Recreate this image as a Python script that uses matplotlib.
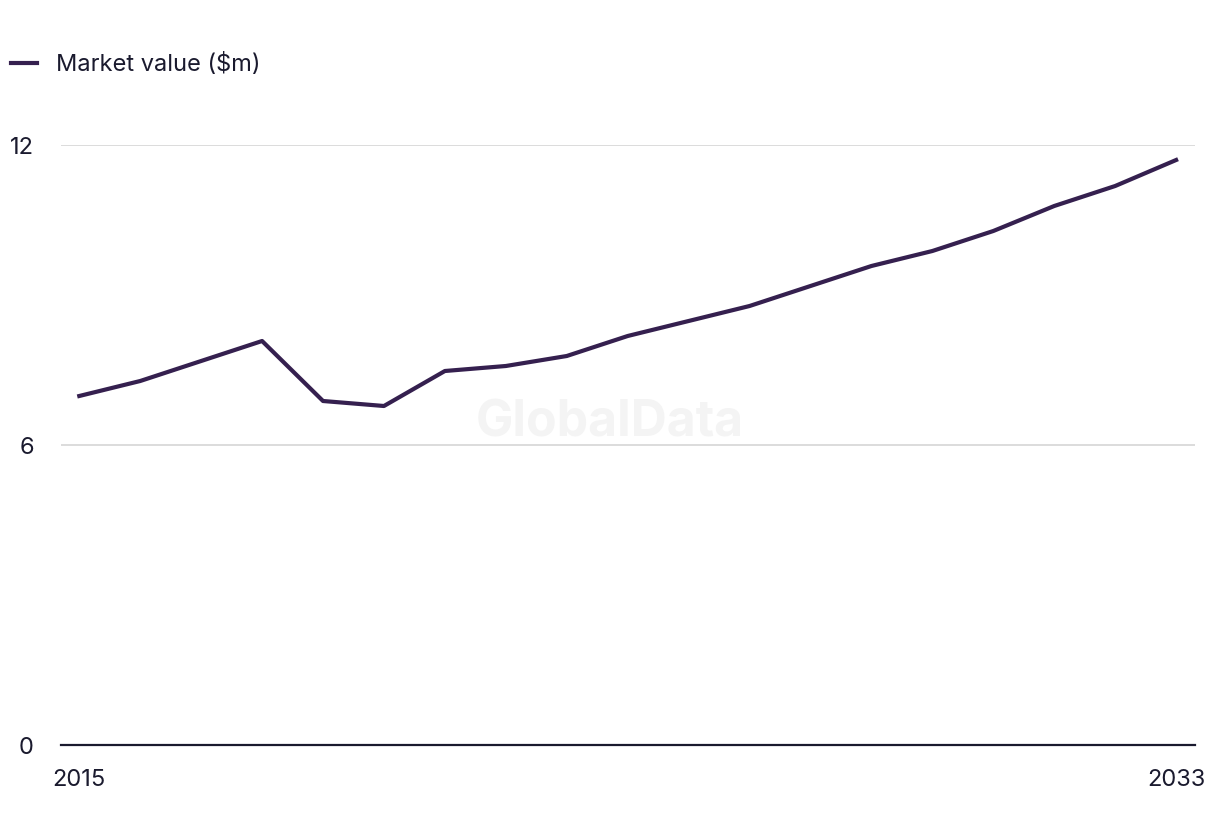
#!/usr/bin/env python3

# Import special modules ...
import matplotlib
matplotlib.use("Agg")
import matplotlib.pyplot

# Data ...
years = list(range(2015, 2034))
values = [6.98, 7.28, 7.68, 8.08, 6.88, 6.78, 7.48, 7.58, 7.78, 8.18, 8.48,
          8.78, 9.18, 9.58, 9.88, 10.28, 10.78, 11.18, 11.7]
yticks = [0, 6, 12]
xticks = [2015, 2033]
label = "Market value ($m)"

matplotlib.pyplot.rcParams["font.family"] = ["Inter", "DejaVu Sans"]

# Create figure ...
fg = matplotlib.pyplot.figure(figsize = (12.2, 8.36), dpi = 100)
ax = fg.add_axes([61 / 1220, 1 - 745 / 836, (1195 - 61) / 1220, (745 - 145) / 836])

# Watermark ...
ax.text(0.484, 0.537, "GlobalData", transform = ax.transAxes, ha = "center", va = "center",
        fontsize = 36, fontweight = "bold", color = "#f4f4f4", zorder = 0)

# Plot line ...
ax.plot(years, values, color = "#35204f", linewidth = 3, label = label, clip_on = False, zorder = 3)

# Configure axis ...
ax.set_xlim(2014.7, 2033.31)
ax.set_ylim(0, 12)
ax.set_yticks(yticks)
ax.set_xticks(xticks)
ax.grid(axis = "y", color = "#d9d9d9", linewidth = 1.3)
ax.set_axisbelow(True)
for side in ["top", "right", "left"]:
    ax.spines[side].set_visible(False)
ax.spines["bottom"].set_color("#1a1a2e")
ax.spines["bottom"].set_linewidth(1.6)
ax.tick_params(axis = "both", length = 0, labelsize = 17, colors = "#1a1a2e")
ax.tick_params(axis = "x", pad = 17)
ax.tick_params(axis = "y", pad = 19.5)

ax.legend(loc = "upper left", bbox_to_anchor = (-0.063, 1.188), frameon = False, fontsize = 17,
          handlelength = 1.1, handletextpad = 0.8, labelcolor = "#1a1a2e")

# Save figure ...
fg.savefig("out.png", dpi = 100)
matplotlib.pyplot.close(fg)
